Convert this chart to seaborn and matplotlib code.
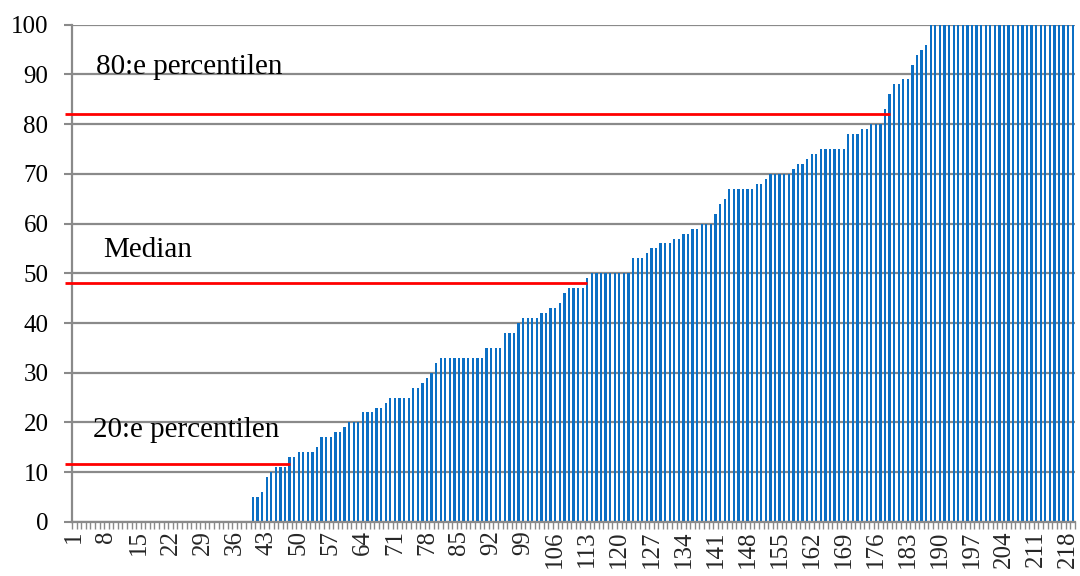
import matplotlib

matplotlib.use("Agg")
import matplotlib.pyplot as plt
import pandas as pd
import seaborn as sns

# sorted scores, one bar per respondent (bar 1..219)
SCORES = [
    0, 0, 0, 0, 0, 0, 0, 0, 0, 0,
    0, 0, 0, 0, 0, 0, 0, 0, 0, 0,
    0, 0, 0, 0, 0, 0, 0, 0, 0, 0,
    0, 0, 0, 0, 0, 0, 0, 0, 0, 5,
    5, 6, 9, 10, 11, 11, 11, 13, 13, 14,
    14, 14, 14, 15, 17, 17, 17, 18, 18, 19,
    20, 20, 20, 22, 22, 22, 23, 23, 24, 25,
    25, 25, 25, 25, 27, 27, 28, 29, 30, 32,
    33, 33, 33, 33, 33, 33, 33, 33, 33, 33,
    35, 35, 35, 35, 38, 38, 38, 40, 41, 41,
    41, 41, 42, 42, 43, 43, 44, 46, 47, 47,
    47, 47, 49, 50, 50, 50, 50, 50, 50, 50,
    50, 50, 53, 53, 53, 54, 55, 55, 56, 56,
    56, 57, 57, 58, 58, 59, 59, 60, 60, 60,
    62, 64, 65, 67, 67, 67, 67, 67, 67, 68,
    68, 69, 70, 70, 70, 70, 70, 71, 72, 72,
    73, 74, 74, 75, 75, 75, 75, 75, 75, 78,
    78, 78, 79, 79, 80, 80, 80, 83, 86, 88,
    88, 89, 89, 92, 94, 95, 96, 100, 100, 100,
    100, 100, 100, 100, 100, 100, 100, 100, 100, 100,
    100, 100, 100, 100, 100, 100, 100, 100, 100, 100,
    100, 100, 100, 100, 100, 100, 100, 100, 100,
]
RESPONDENT = list(range(1, len(SCORES) + 1))

# reference lines: label, level, last bar the line reaches
REF_LABELS = ["20:e percentilen", "Median", "80:e percentilen"]
REF_LEVELS = [11.7, 48.0, 82.0]
REF_END_BAR = [48, 113, 179]
# label anchor (bar number, baseline value)
LABEL_BAR = [5, 7.2, 5.7]
LABEL_Y = [17.0, 53.3, 90.0]

BAR_BLUE = "#0b6fc4"
GRID = "#8a8a8a"
SERIF = ["Liberation Serif", "DejaVu Serif"]

sns.set_theme(style="white")
plt.rcParams["font.family"] = SERIF

df = pd.DataFrame({"nr": RESPONDENT, "score": SCORES})

fig, ax = plt.subplots(figsize=(10.8, 5.76), dpi=100)
fig.subplots_adjust(left=0.0667, right=0.9954, top=0.957, bottom=0.094)

sns.barplot(data=df, x="nr", y="score", color=BAR_BLUE, saturation=1,
            width=0.5, linewidth=0, ax=ax, zorder=2)

ax.set_xlim(-0.5, len(SCORES) - 0.5)
ax.set_ylim(0, 100)
ax.set_yticks(range(0, 101, 10))
ax.tick_params(axis="y", labelsize=18, colors=GRID, labelcolor="black",
               length=6, width=1.5, direction="out", left=True, pad=11)

label_pos = list(range(0, len(SCORES), 7))
ax.set_xticks(label_pos)
ax.set_xticklabels([str(RESPONDENT[i]) for i in label_pos], rotation=90)
ax.set_xticks([i - 0.5 for i in range(len(SCORES) + 1)], minor=True)
ax.tick_params(axis="x", which="major", length=0, labelsize=18, pad=6)
ax.tick_params(axis="x", which="minor", length=5, width=1.0, colors=GRID,
               direction="out", bottom=True)

ax.grid(axis="y", color=GRID, linewidth=1.6, zorder=0)
ax.grid(axis="x", visible=False)
ax.set_axisbelow(True)
for side in ["top", "right"]:
    ax.spines[side].set_visible(False)
for side in ["left", "bottom"]:
    ax.spines[side].set_color(GRID)
    ax.spines[side].set_linewidth(1.6)
ax.set_xlabel("")
ax.set_ylabel("")

for label, level, end_bar, lx, ly in zip(REF_LABELS, REF_LEVELS, REF_END_BAR, LABEL_BAR, LABEL_Y):
    ax.plot([-2.0, end_bar - 1], [level, level], color="#ff0000", linewidth=2.0,
            solid_capstyle="butt", clip_on=False, zorder=4)
    ax.text(lx - 1, ly, label, fontsize=21, color="black", ha="left", va="baseline",
            family=SERIF, zorder=5)

fig.savefig("out.png", dpi=100)
